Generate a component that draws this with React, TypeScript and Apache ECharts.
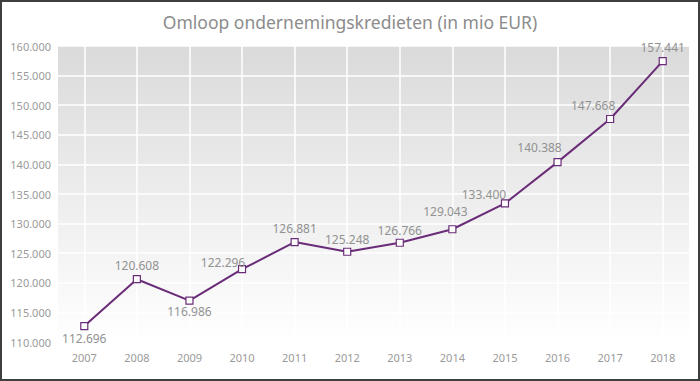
import React, { useEffect, useRef } from "react";
import * as echarts from "echarts";

const title = "Omloop ondernemingskredieten (in mio EUR)";
const years = ["2007", "2008", "2009", "2010", "2011", "2012", "2013", "2014", "2015", "2016", "2017", "2018"];
const values = [112696, 120608, 116986, 122296, 126881, 125248, 126766, 129043, 133400, 140388, 147668, 157441];
const labelSide = ["bottom", "top", "bottom", "top", "top", "top", "top", "top", "top", "top", "top", "top"];
const labelShift: [number, number][] = [
  [0, -2], [0, 0], [0, -3], [-19, 7], [0, 1], [0, 2], [0, 2], [-7, -4], [-21, 5], [-18, -1], [-17, 1], [0, 0],
];

const fmt = (v: number) => String(v).replace(/\B(?=(\d{3})+(?!\d))/g, ".");

export default function App() {
  const ref = useRef<HTMLDivElement>(null);
  useEffect(() => {
    const chart = echarts.init(ref.current!, undefined, { renderer: "svg" });
    const font = "'Noto Sans', sans-serif";
    chart.setOption({
      animation: false,
      backgroundColor: "#ffffff",
      title: {
        text: title,
        left: "center",
        top: 8,
        textStyle: { fontFamily: font, fontSize: 17.5, fontWeight: "normal", color: "#8c8c8c" },
      },
      graphic: [
        {
          type: "rect",
          shape: { x: 1, y: 1, width: 698, height: 379 },
          style: { fill: "none", stroke: "#3e3e3e", lineWidth: 2 },
          z: 100,
        },
      ],
      grid: {
        left: 58,
        right: 11,
        top: 46,
        bottom: 39,
        show: true,
        borderWidth: 0,
        backgroundColor: new echarts.graphic.LinearGradient(0, 0, 0, 1, [
          { offset: 0, color: "#dadada" },
          { offset: 1, color: "#ffffff" },
        ]),
      },
      xAxis: {
        type: "category",
        data: years,
        boundaryGap: true,
        axisLine: { show: false },
        axisTick: { show: false },
        axisLabel: { color: "#9a9a9a", fontFamily: font, fontSize: 11, margin: 10 },
        splitLine: { show: true, alignWithLabel: true, lineStyle: { color: "#ffffff", width: 1.5 } },
      },
      yAxis: {
        type: "value",
        min: 110000,
        max: 160000,
        interval: 5000,
        axisLine: { show: false },
        axisTick: { show: false },
        axisLabel: { color: "#9a9a9a", fontFamily: font, fontSize: 11, margin: 7, formatter: (v: number) => fmt(v) },
        splitLine: { show: true, lineStyle: { color: "#ffffff", width: 1.5 } },
      },
      series: [
        {
          type: "line",
          data: values.map((v, i) => ({
            value: v,
            label: { position: labelSide[i], offset: labelShift[i] },
          })),
          symbol: "rect",
          symbolSize: 7,
          lineStyle: { color: "#6a2c78", width: 2 },
          itemStyle: { color: "#ffffff", borderColor: "#6a2c78", borderWidth: 1.2 },
          label: {
            show: true,
            color: "#929292",
            fontFamily: font,
            fontSize: 12,
            distance: 4,
            formatter: (p: any) => fmt(p.value),
          },
        },
      ],
    });
    return () => chart.dispose();
  }, []);
  return <div ref={ref} style={{ width: 700, height: 381, position: "absolute", left: 0, top: 0 }} />;
}
